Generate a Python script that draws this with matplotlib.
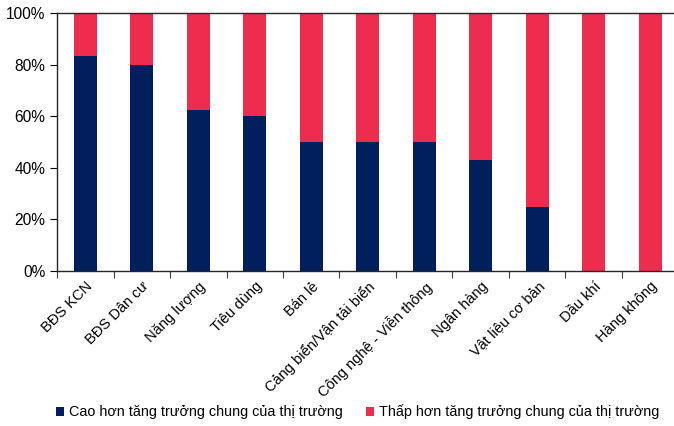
import numpy as np
import matplotlib.pyplot as plt
from matplotlib.ticker import PercentFormatter

plt.rcParams['font.family'] = ['Liberation Sans', 'DejaVu Sans']

# sectors and share of companies above / below market growth
categories = ["BĐS KCN", "BĐS Dân cư", "Năng lượng", "Tiêu dùng", "Bán lẻ",
              "Cảng biển/Vận tải biển", "Công nghệ - Viễn thông", "Ngân hàng",
              "Vật liệu cơ bản", "Dầu khí", "Hàng không"]
above = [83.3, 80.0, 62.5, 60.0, 50.0, 50.0, 50.0, 42.9, 25.0, 0.0, 0.0]
below = [100 - v for v in above]

label_above = "Cao hơn tăng trưởng chung của thị trường"
label_below = "Thấp hơn tăng trưởng chung của thị trường"

navy = "#001F5C"
red = "#EE2D4E"

fig = plt.figure(figsize=(6.74, 4.26), dpi=100)
ax = fig.add_axes([0.0846, 0.3638, 0.922, 0.6057])

x = np.arange(len(categories))
ax.bar(x, above, width=0.41, color=navy, label=label_above)
ax.bar(x, below, width=0.41, bottom=above, color=red, label=label_below)

ax.set_xlim(-0.5, len(categories) - 0.5)
ax.set_ylim(0, 100)
ax.set_yticks(np.arange(0, 101, 20))
ax.yaxis.set_major_formatter(PercentFormatter(decimals=0))

# ticks between the bars, labels under the bars
ax.set_xticks(np.arange(len(categories) + 1) - 0.5)
ax.set_xticklabels([])
ax.set_xticks(x, minor=True)
ax.set_xticklabels(categories, minor=True, rotation=45, ha="right",
                   rotation_mode="anchor", fontsize=10.5)
ax.tick_params(axis="x", which="minor", length=0, pad=6)
ax.tick_params(axis="x", which="major", length=5, direction="out", color="#404040")
ax.tick_params(axis="y", length=5, direction="out", labelsize=11.2)

for side in ["left", "bottom", "top"]:
    ax.spines[side].set_color("#262626")
    ax.spines[side].set_linewidth(1.0)
ax.spines["right"].set_visible(False)

fig.legend(loc="lower center", bbox_to_anchor=(0.53, -0.015), ncol=2,
           frameon=False, fontsize=10.4, handlelength=0.6, handleheight=0.6,
           handletextpad=0.3, columnspacing=1.6)

fig.savefig("out.png", dpi=100)
